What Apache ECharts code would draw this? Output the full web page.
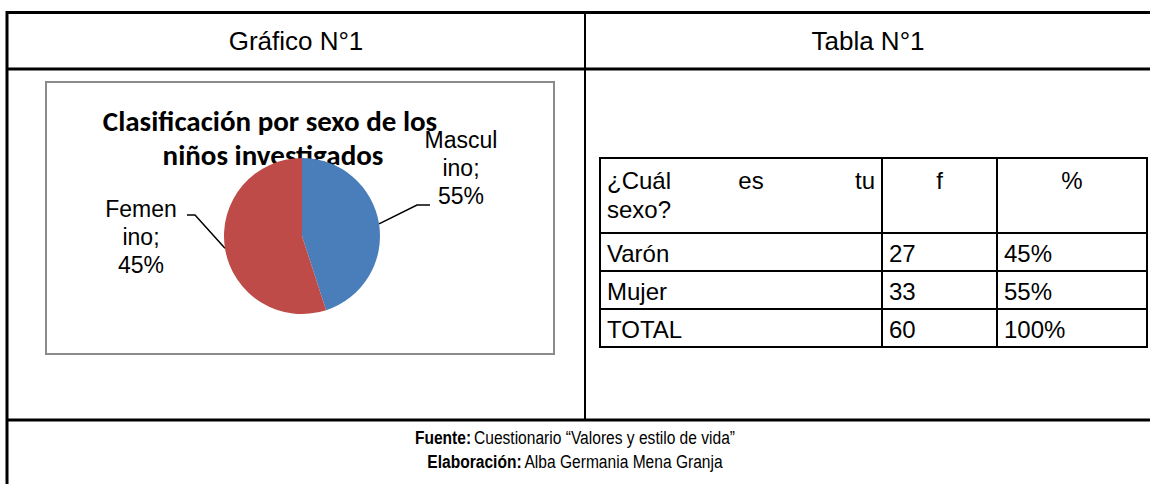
<!DOCTYPE html>
<html lang="es">
<head>
    <meta charset="UTF-8">
    <title>Gráfico N°1 - Clasificación por sexo</title>
    <script src="https://cdn.jsdelivr.net/npm/echarts@6/dist/echarts.min.js"></script>
    <style>
        html, body { margin: 0; padding: 0; background: #fff; }
        #main { width: 1150px; height: 484px; }
    </style>
</head>
<body>
    <div id="main"></div>
    <script>
    // datos del gráfico
    var sliceNames = ['Masculino', 'Femenino'];
    var sliceValues = [27, 33];
    // etiquetas tal como aparecen en el original (cortadas en tres líneas)
    var sliceLabels = ['Mascul\nino;\n55%', 'Femen\nino;\n45%'];
    var sliceColors = ['#4a7ebb', '#be4b48'];

    // datos de la tabla
    var tableHeadWords = ['¿Cuál', 'es', 'tu'];
    var tableHeadLine2 = 'sexo?';
    var tableHead = ['f', '%'];
    var rowNames = ['Varón', 'Mujer', 'TOTAL'];
    var rowFreq = ['27', '33', '60'];
    var rowPct = ['45%', '55%', '100%'];

    var myChart = echarts.init(document.getElementById('main'), null, { renderer: 'svg' });

    var black = '#000';
    var fontMain = '"Liberation Sans", Arial, sans-serif';
    var g = [];

    function line(x1, y1, x2, y2, w, c) {
        g.push({ type: 'line', shape: { x1: x1, y1: y1, x2: x2, y2: y2 },
            style: { stroke: c || black, lineWidth: w || 2 } });
    }
    function text(x, y, s, size, align, extra) {
        var st = { text: s, x: x, y: y, fill: '#000', font: (size || 24) + 'px ' + fontMain,
            align: align || 'left', verticalAlign: 'middle' };
        if (extra) for (var k in extra) st[k] = extra[k];
        g.push({ type: 'text', style: st });
    }

    // marco exterior
    line(6, 12.5, 1150, 12.5, 3);
    line(7, 11, 7, 484, 3);
    line(6, 69, 1150, 69, 3);
    line(585, 12, 585, 420, 2);
    line(6, 420, 1150, 420, 3);

    text(296, 41, 'Gráfico N°1', 26, 'center');
    text(868, 41, 'Tabla N°1', 26, 'center');

    // cuadro del gráfico
    g.push({ type: 'rect', shape: { x: 46, y: 82, width: 508, height: 272 },
        style: { fill: 'none', stroke: '#8a8a8a', lineWidth: 2 } });
    var titleFont = 'bold 29px Carlito, Lato, sans-serif';
    text(270, 121, 'Clasificación por sexo de los', 29, 'center', { font: titleFont });
    text(273, 155, 'niños investigados', 29, 'center', { font: titleFont });

    // tabla
    var tx0 = 600, tx1 = 882, tx2 = 997, tx3 = 1147;
    var ty = [158, 233, 271, 309, 347];
    ty.forEach(function (y) { line(tx0 - 1, y, tx3 + 1, y, 2); });
    [tx0, tx1, tx2, tx3].forEach(function (x) { line(x, ty[0], x, ty[4], 2); });

    // cabecera justificada
    text(tx0 + 7, 180, tableHeadWords[0], 24, 'left');
    text((tx0 + tx1) / 2 + 10, 180, tableHeadWords[1], 24, 'center');
    text(tx1 - 7, 180, tableHeadWords[2], 24, 'right');
    text(tx0 + 7, 209, tableHeadLine2, 24, 'left');
    text((tx1 + tx2) / 2, 180, tableHead[0], 24, 'center');
    text((tx2 + tx3) / 2, 180, tableHead[1], 24, 'center');

    rowNames.forEach(function (n, i) {
        var cy = (ty[i + 1] + ty[i + 2]) / 2 + 1;
        text(tx0 + 7, cy, n, 24, 'left');
        text(tx1 + 7, cy, rowFreq[i], 24, 'left');
        text(tx2 + 7, cy, rowPct[i], 24, 'left');
    });

    // pie de tabla (letra estrecha)
    function footer(y, bold, normal) {
        g.push({ type: 'text', x: 575, y: y, scaleX: 0.82, style: {
            x: 0, y: 0, align: 'center', verticalAlign: 'middle',
            text: '{b|' + bold + '} {n|' + normal + '}',
            rich: { b: { font: 'bold 19px ' + fontMain, fill: '#000' }, n: { font: '19px ' + fontMain, fill: '#000' } }
        } });
    }
    footer(437, 'Fuente:', 'Cuestionario “Valores y estilo de vida”');
    footer(461, 'Elaboración:', 'Alba Germania Mena Granja');

    // posición de las etiquetas y del codo de sus líneas
    var pieCenter = [302, 236], pieR = 78;
    var labelPos = [{ x: 461, y: 168 }, { x: 141, y: 237 }];
    var labelElbow = [[417, 205, 430], [195, 215, 187]];

    var total = sliceValues.reduce(function (a, b) { return a + b; }, 0);
    function midPoint(i) {
        var before = 0;
        for (var k = 0; k < i; k++) before += sliceValues[k];
        var a = (before + sliceValues[i] / 2) / total * Math.PI * 2;
        return [pieCenter[0] + pieR * Math.sin(a), pieCenter[1] - pieR * Math.cos(a)];
    }

    var option = {
        animation: false,
        graphic: { elements: g },
        series: [{
            type: 'pie',
            center: pieCenter,
            radius: pieR,
            startAngle: 90,
            clockwise: true,
            silent: true,
            z: 5,
            data: sliceNames.map(function (n, i) {
                return { name: n, value: sliceValues[i], itemStyle: { color: sliceColors[i] } };
            }),
            label: {
                show: true,
                formatter: function (p) { return sliceLabels[p.dataIndex]; },
                fontFamily: fontMain,
                fontSize: 23,
                lineHeight: 28,
                color: '#000',
                align: 'center'
            },
            labelLine: { show: true, lineStyle: { color: '#000', width: 1.5 } },
            labelLayout: function (params) {
                var i = params.dataIndex;
                var p = labelPos[i], e = labelElbow[i];
                return {
                    x: p.x, y: p.y, align: 'center', verticalAlign: 'middle',
                    labelLinePoints: [midPoint(i), [e[0], e[1]], [e[2], e[1]]]
                };
            }
        }]
    };

    myChart.setOption(option);
    </script>
</body>
</html>
